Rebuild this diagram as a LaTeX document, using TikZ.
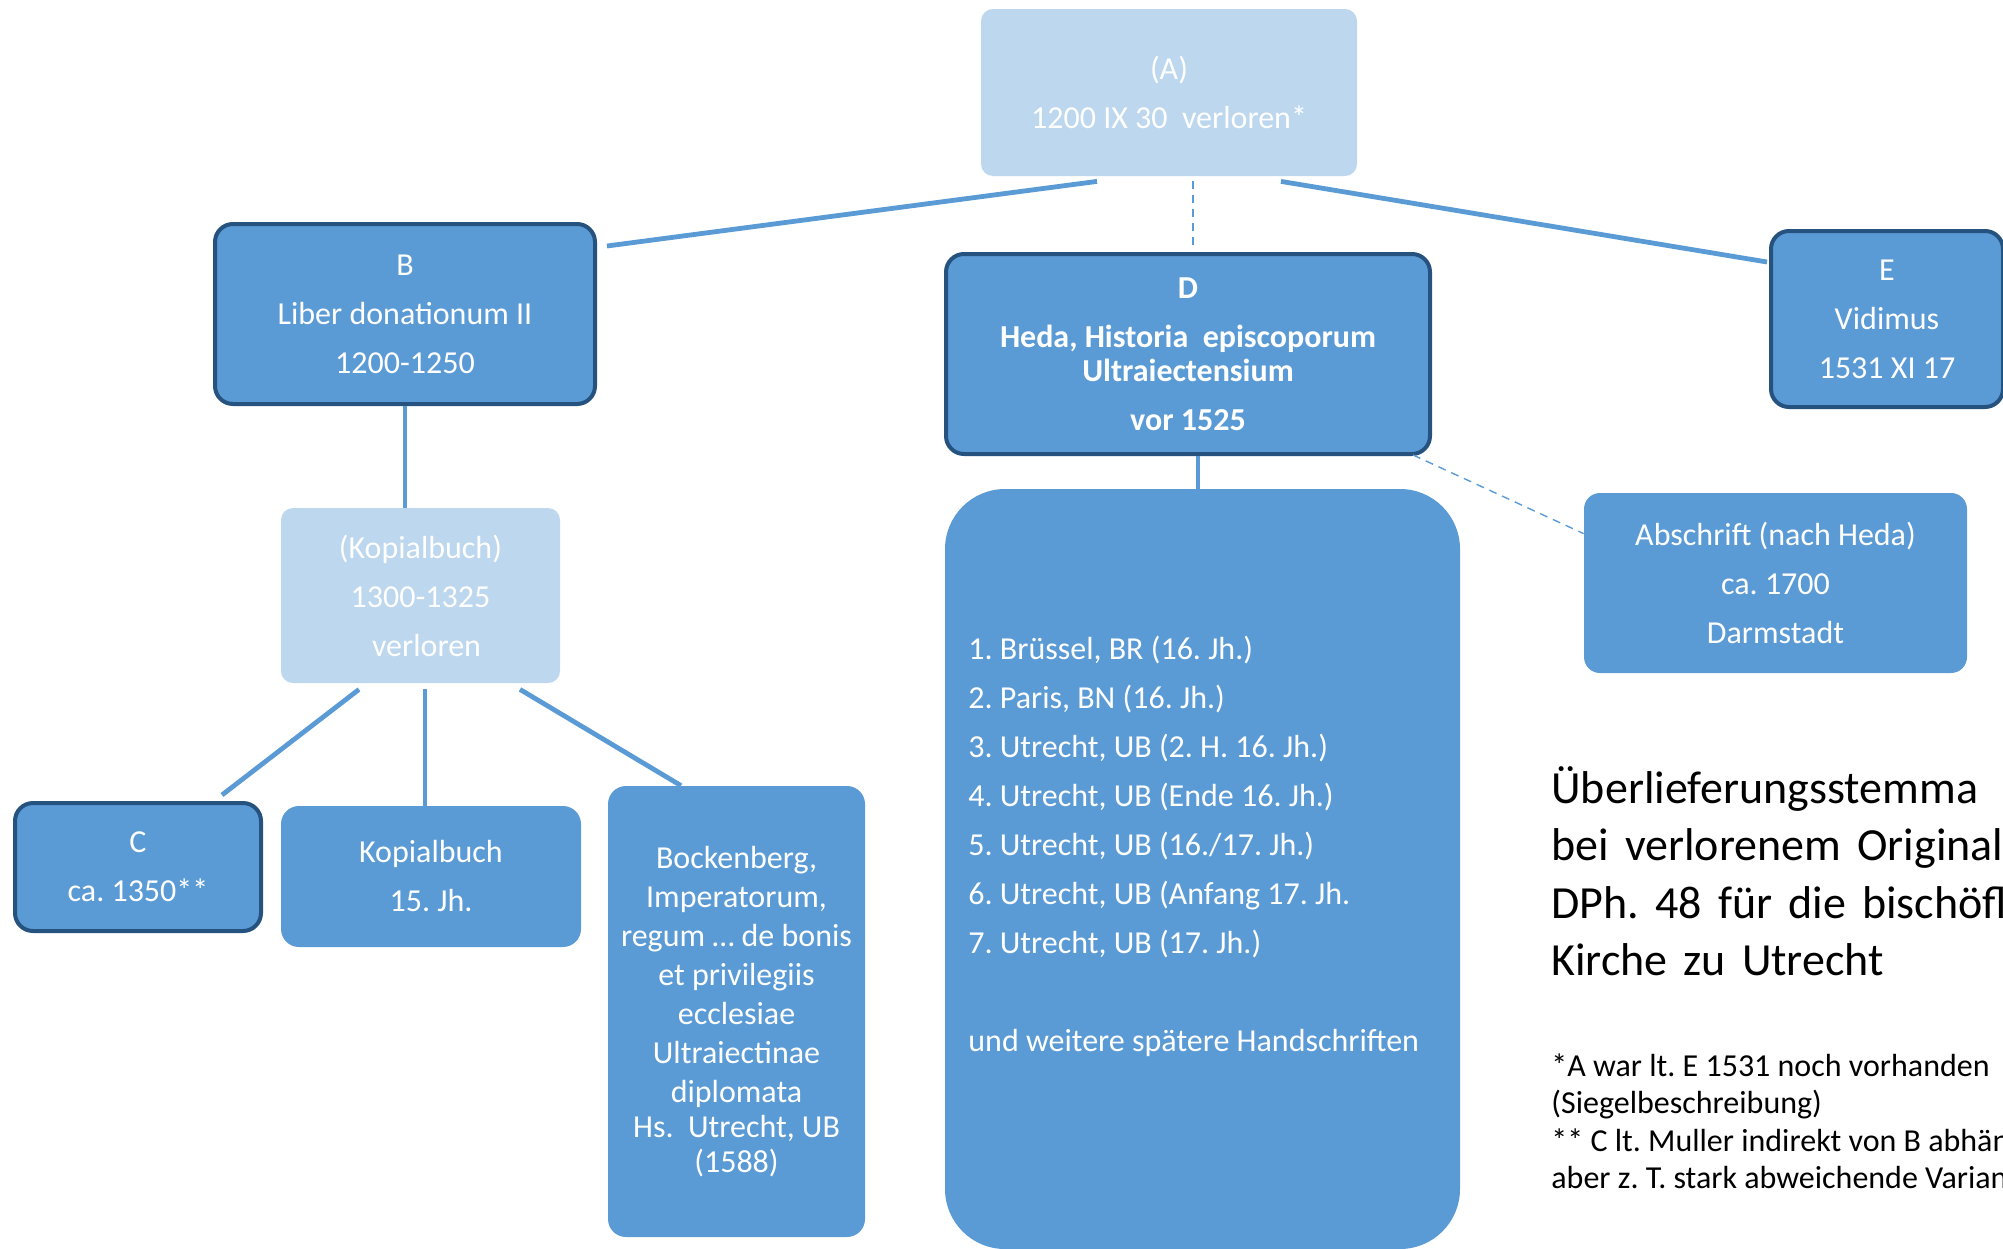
\documentclass[tikz,border=0pt]{standalone}
\usepackage{fontspec}
\setmainfont{Carlito}
\usepackage{tikz}
\frenchspacing
\definecolor{wblue}{HTML}{5B9BD5}
\definecolor{lblue}{HTML}{BDD7EE}
\definecolor{nblue}{HTML}{25527E}
\newcommand\ttlfont{\fontsize{23}{28.75}\selectfont\spaceskip=0.35em\relax}
\tikzstyle{stem}=[
	-,
	draw=wblue,
	line width=2.4pt
]
\tikzstyle{guess}=[
	-,
	draw=wblue,
	line width=0.7pt,
	dash pattern=on 4pt off 3pt
]
\tikzstyle{txt}=[
	text=white,
	inner sep=0pt,
	align=center,
	font=\fontsize{16}{24.5}\selectfont
]
\tikzstyle{lost}=[
	txt,
	fill=lblue,
	rounded corners=6pt
]
\tikzstyle{wit}=[
	txt,
	fill=wblue,
	rounded corners=9pt
]
\tikzstyle{witb}=[
	wit,
	draw=nblue,
	line width=2pt
]
\tikzstyle{plain}=[
	anchor=north west,
	align=left,
	inner sep=0pt
]

\begin{document}
\begin{tikzpicture}[x=0.5pt, y=-0.5pt]
\useasboundingbox (0,0) rectangle (2003,1248);
\clip (0,0) rectangle (2003,1248);

\node[lost, minimum width=188pt, minimum height=83.5pt] (A) at (1169,92.5) {(A)\\1200 IX 30\ \ verloren*};
\node[witb, minimum width=190pt, minimum height=90pt] (B) at (405,314) {B\\Liber donationum II\\1200-1250};
\node[witb, minimum width=242pt, minimum height=100pt, font=\fontsize{16}{24.5}\selectfont\bfseries] (D) at (1188,354) {D\\Heda, Historia\ \ episcoporum\\[-7.5pt]Ultraiectensium\\vor 1525};
\node[witb, minimum width=116pt, minimum height=88pt] (E) at (1887,319) {E\\Vidimus\\1531 XI 17};

\node[lost, minimum width=139.5pt, minimum height=87.5pt] (kopl) at (420.5,595.5) {(Kopialbuch)\\1300-1325\\\hspace*{6pt}verloren};
\node[witb, minimum width=123pt, minimum height=64pt] (C) at (138,867) {C\\ca. 1350**};
\node[wit, minimum width=150pt, minimum height=70.5pt] (kop) at (431,876.5) {Kopialbuch\\15. Jh.};
\node[wit, minimum width=128.5pt, minimum height=225.5pt, font=\fontsize{16}{19.5}\selectfont] (bock) at (736.5,1011.5) {Bockenberg,\\Imperatorum,\\regum … de bonis\\et privilegiis\\ecclesiae\\Ultraiectinae\\diplomata\\[-2pt]Hs.\ \ Utrecht, UB\\[-2pt](1588)};

\node[wit, rounded corners=30pt, minimum width=257.5pt, minimum height=380pt] (hss) at (1202.5,869) {};
\node[txt, align=left, anchor=north west] (hsstext) at (968,636) {1. Brüssel, BR (16. Jh.)\\2. Paris, BN (16. Jh.)\\3. Utrecht, UB (2. H. 16. Jh.)\\4. Utrecht, UB (Ende 16. Jh.)\\5. Utrecht, UB (16./17. Jh.)\\6. Utrecht, UB (Anfang 17. Jh.\\7. Utrecht, UB (17. Jh.)\\[24.5pt]und weitere spätere Handschriften};
\node[wit, rounded corners=8pt, minimum width=191.5pt, minimum height=90pt] (abs) at (1775.5,583) {Abschrift (nach Heda)\\ca. 1700\\Darmstadt};

\node[plain, font=\ttlfont] (title) at (1551,766) {Überlieferungsstemma\\bei verlorenem Original\\DPh. 48 für die bischöfliche\\Kirche zu Utrecht};
\node[plain, font=\fontsize{16}{18.75}\selectfont] (note) at (1551,1053) {*A war lt. E 1531 noch vorhanden\\(Siegelbeschreibung)\\** C lt. Muller indirekt von B abhängig,\\aber z. T. stark abweichende Varianten};

\draw[stem] ([shift={(-72,5)}]A.south) -- ([shift={(10,24)}]B.north east);
\draw[stem] ([shift={(112,5)}]A.south) -- ([shift={(-2,33)}]E.north west);
\draw[guess] ([shift={(24,5)}]A.south) -- ([shift={(5,-2)}]D.north);
\draw[stem] (B.south) -- (B.south |- kopl.north);
\draw[stem] ([xshift=5]D.south) -- ([xshift=5]D.south |- hss.north);
\draw[guess] ([shift={(-19,-1)}]D.south east) -- ([shift={(0,41)}]abs.north west);
\draw[stem] ([shift={(-61.5,6)}]kopl.south) -- ([shift={(-41,-6)}]C.north east);
\draw[stem] ([shift={(4.5,6)}]kopl.south) -- ([shift={(4.5,6)}]kopl.south |- kop.north);
\draw[stem] ([shift={(99.5,6)}]kopl.south) -- ([shift={(-55.5,0)}]bock.north);
\end{tikzpicture}
\end{document}
